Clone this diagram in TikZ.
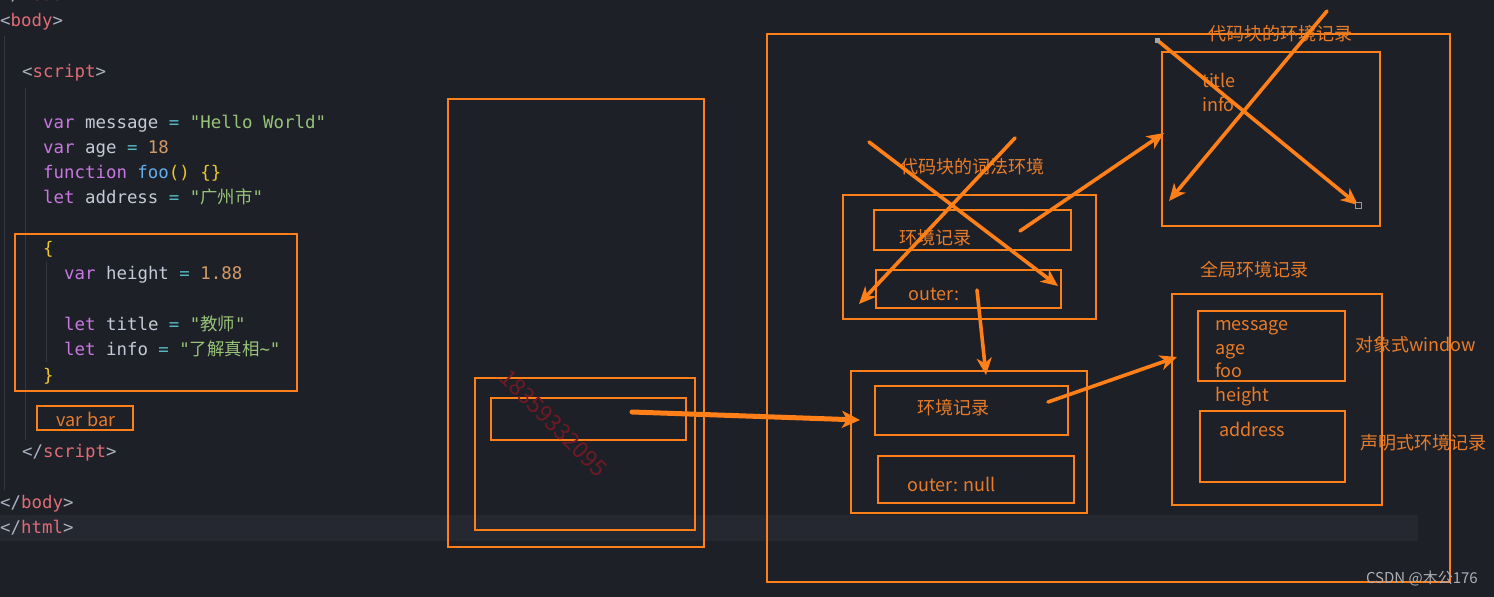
\documentclass[tikz,border=0pt]{standalone}
\usepackage{fontspec}
\usetikzlibrary{arrows.meta,fit}
\newfontfamily\codefont{DejaVu Sans Mono}
\newfontfamily\cjk{Noto Sans CJK SC}
\definecolor{bg}{RGB}{30,32,40}
\definecolor{hl}{RGB}{37,39,49}
\definecolor{org}{RGB}{255,128,24}
\definecolor{orgtxt}{RGB}{232,124,40}
\definecolor{tagred}{RGB}{224,108,117}
\definecolor{kw}{RGB}{200,120,225}
\definecolor{idt}{RGB}{196,202,214}
\definecolor{op}{RGB}{86,182,194}
\definecolor{strc}{RGB}{152,195,121}
\definecolor{numc}{RGB}{209,154,102}
\definecolor{fnc}{RGB}{97,175,239}
\definecolor{brk}{RGB}{235,200,40}
\definecolor{ang}{RGB}{171,178,191}
\definecolor{wm}{RGB}{110,26,36}
\definecolor{guide}{RGB}{52,55,64}
\definecolor{csdn}{RGB}{175,175,178}
\newcommand\ckw[1]{\textcolor{kw}{#1}}
\newcommand\cop[1]{\textcolor{op}{#1}}
\newcommand\cstr[1]{\textcolor{strc}{#1}}
\newcommand\cnum[1]{\textcolor{numc}{#1}}
\newcommand\cfn[1]{\textcolor{fnc}{#1}}
\newcommand\cbr[1]{\textcolor{brk}{#1}}
\newcommand\ctag[1]{\textcolor{ang}{<}\textcolor{tagred}{#1}\textcolor{ang}{>}}
\newcommand\cetag[1]{\textcolor{ang}{</}\textcolor{tagred}{#1}\textcolor{ang}{>}}
\tikzset{
  code/.style={anchor=west, inner sep=0pt, text height=14pt, text depth=3pt, font=\codefont\fontsize{17.4}{20}\selectfont, text=idt},
  lbl/.style={inner sep=0pt, text height=18pt, text depth=3pt, font=\cjk\fontsize{18}{21}\selectfont, text=orgtxt},
  lbll/.style={lbl, anchor=west},
  box/.style={draw=org, line width=1.7pt, inner sep=0pt},
  arr/.style={draw=org, line width=3.6pt, line cap=round, -{Stealth[length=17pt,width=15pt,inset=5pt]}},
  guideline/.style={draw=guide, line width=0.8pt}
}
\begin{document}
\begin{tikzpicture}[x=1pt,y=-1pt]
\useasboundingbox (0,0) rectangle (1494,597);
\fill[bg] (0,0) rectangle (1494,597);
\fill[hl] (0,515) rectangle (1418,541);
% indent guides
\draw[guideline] (4,36) -- (4,490);
\draw[guideline] (25,88) -- (25,440);
\draw[guideline] (46,262) -- (46,362);
% code
\node[code] (lhead) at (0,-5) {\cetag{head}};
\node[code] (lbody) at (0,21) {\ctag{body}};
\node[code] (lscript) at (22,72) {\ctag{script}};
\node[code] (l1) at (43,123) {\ckw{var} message \cop{=} \cstr{"Hello World"}};
\node[code] (l2) at (43,148) {\ckw{var} age \cop{=} \cnum{18}};
\node[code] (l3) at (43,173) {\ckw{function} \cfn{foo}\cbr{()} \cbr{\{\}}};
\node[code] (l4) at (43,198) {\ckw{let} address \cop{=} \cstr{"{\cjk 广州市}"}};
\node[code] (l5) at (43,249) {\cbr{\{}};
\node[code] (l6) at (64,274) {\ckw{var} height \cop{=} \cnum{1.88}};
\node[code] (l7) at (64,325) {\ckw{let} title \cop{=} \cstr{"{\cjk 教师}"}};
\node[code] (l8) at (64,350) {\ckw{let} info \cop{=} \cstr{"{\cjk 了解真相}\textasciitilde"}};
\node[code] (l9) at (43,376) {\cbr{\}}};
\node[code] (lescript) at (22,452) {\cetag{script}};
\node[code] (lebody) at (0,503) {\cetag{body}};
\node[code] (lehtml) at (0,528) {\cetag{html}};
\node[box, fit={(15,234)(297,391)}] (blockbox) {};
\node[box, fit={(37,406)(133,430)}] (barbox) {};
\node[lbl] (bartxt) at (86,419) {var\hspace{5pt}bar};
% ECS
\node[box, fit={(448,99)(704,547)}] (ecs) {};
\node[box, fit={(475,378)(695,530)}] (gec) {};
\node[box, fit={(491,398)(686,440)}] (gecin) {};
\node[text=wm, font=\cjk\fontsize{23}{26}\selectfont, rotate=-45, inner sep=0pt] (wmark) at (554,423) {18359332095};
% big area
\node[box, fit={(767,34)(1450,582)}] (big) {};
\node[lbl] (lexlbl) at (972,166) {代码块的词法环境};
\node[box, fit={(843,195)(1096,319)}] (lex) {};
\node[box, fit={(874,210)(1071,250)}] (lexer) {};
\node[lbll] (lexertxt) at (899,237) {环境记录};
\node[box, fit={(876,270)(1061,308)}] (lexout) {};
\node[lbll] (lexouttxt) at (908,293) {outer:};
\node[box, fit={(851,371)(1087,513)}] (glex) {};
\node[box, fit={(875,386)(1068,435)}] (gler) {};
\node[lbll] (glertxt) at (917,407) {环境记录};
\node[box, fit={(878,456)(1074,503)}] (glout) {};
\node[lbll] (glouttxt) at (907,484) {outer: null};
% code block env record
\node[lbl] (cbrlbl) at (1280,33) {代码块的环境记录};
\node[box, fit={(1162,52)(1380,226)}] (cbr) {};
\node[lbll] (ttl) at (1202,80) {title};
\node[lbll] (inf) at (1202,104) {info};
% global env record
\node[lbl] (gerlbl) at (1254,269) {全局环境记录};
\node[box, fit={(1172,294)(1382,505)}] (ger) {};
\node[box, fit={(1198,311)(1345,381)}] (objrec) {};
\node[lbll] (vmsg) at (1215,323) {message};
\node[lbll] (vage) at (1215,347) {age};
\node[lbll] (vfoo) at (1215,370) {foo};
\node[lbll] (vhgt) at (1215,394) {height};
\node[box, fit={(1200,411)(1345,482)}] (decrec) {};
\node[lbll] (vaddr) at (1219,429) {address};
\node[lbll] (objlbl) at (1355,344) {对象式window};
\node[lbll] (declbl) at (1360,442) {声明式环境记录};
% arrow coordinates
\coordinate (a1s) at (632,412);
\coordinate (a1e) at (860,420);
\coordinate (a2s) at (977,290);
\coordinate (a2e) at (986,375);
\coordinate (a3s) at (1048,402);
\coordinate (a3e) at (1177,357);
\coordinate (a4s) at (1020,231);
\coordinate (a4e) at (1164,133);
\coordinate (x1s) at (869,142);
\coordinate (x1e) at (1058,286);
\coordinate (x2s) at (1015,138);
\coordinate (x2e) at (859,304);
\coordinate (x3s) at (1157,40);
\coordinate (x3e) at (1358,205);
\coordinate (x4s) at (1327,11);
\coordinate (x4e) at (1169,201);
\draw[arr, line width=5pt, -{Stealth[length=18pt,width=17pt,inset=5pt]}] (a1s) -- (a1e);
\draw[arr] (a2s) -- (a2e);
\draw[arr] (a3s) -- (a3e);
\draw[arr] (a4s) -- (a4e);
\draw[arr] (x1s) -- (x1e);
\draw[arr] (x2s) -- (x2e);
\draw[arr] (x3s) -- (x3e);
\draw[arr] (x4s) -- (x4e);
\node[fill=gray!70, minimum size=5pt, inner sep=0pt] (hdl) at (x3s) {};
\node[draw=gray!80, fill=bg, minimum size=6pt, inner sep=0pt, line width=1pt] (hdl2) at (x3e) {};
% watermark
\node[anchor=east, inner sep=0pt, text=csdn, font=\cjk\fontsize{15}{17}\selectfont] (csdnmark) at (1478,578) {CSDN @木公176};
\end{tikzpicture}
\end{document}
